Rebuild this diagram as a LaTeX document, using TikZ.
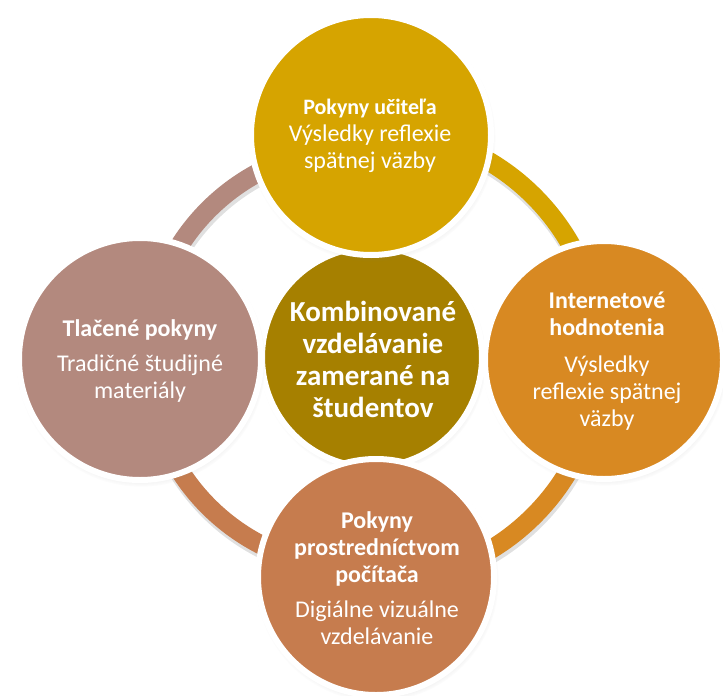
\documentclass[tikz,border=0pt]{standalone}
\usepackage{fontspec}
\setmainfont{Carlito}
\usetikzlibrary{shadows}
\definecolor{cTop}{RGB}{214,164,0}
\definecolor{cRight}{RGB}{216,137,34}
\definecolor{cBottom}{RGB}{198,124,78}
\definecolor{cLeft}{RGB}{179,137,126}
\definecolor{cCenter}{RGB}{166,128,0}
\begin{document}
\begin{tikzpicture}[x=1pt,y=-1pt,
  ring/.style={line width=19pt},
  ringshadow/.style={line width=21pt, draw=black, opacity=0.12},
  bubble/.style={circle, draw=white, line width=6pt, inner sep=0pt,
    circular drop shadow={shadow xshift=1pt, shadow yshift=-3pt, shadow scale=1.03, opacity=0.3}},
  txt/.style={text=white, align=center, font=\fontsize{24}{27}\selectfont},
  ctxt/.style={text=white, align=center, font=\fontsize{29}{32}\selectfont\bfseries}]
\useasboundingbox (0,0) rectangle (723,696);
\fill[white] (0,0) rectangle (723,696);
% ring centres
\coordinate (OL) at (357,358);
\coordinate (OR) at (374,356);
% ring shadows
\draw[ringshadow] ([shift={(1,3)}]OL) ++(180:210) arc[start angle=180, end angle=270, radius=210];
\draw[ringshadow] ([shift={(1,3)}]OL) ++(90:210) arc[start angle=90, end angle=180, radius=210];
\draw[ringshadow] ([shift={(1,3)}]OR) ++(270:226) arc[start angle=270, end angle=360, radius=226];
\draw[ringshadow] ([shift={(1,3)}]OR) ++(0:226) arc[start angle=0, end angle=90, radius=226];
% ring arcs
\draw[ring, cLeft] (OL) ++(180:210) arc[start angle=180, end angle=270, radius=210];
\draw[ring, cBottom] (OL) ++(90:210) arc[start angle=90, end angle=180, radius=210];
\draw[ring, cTop] (OR) ++(270:226) arc[start angle=270, end angle=360, radius=226];
\draw[ring, cRight] (OR) ++(0:226) arc[start angle=0, end angle=90, radius=226];
% centre circle
\node[bubble, fill=cCenter, minimum size=220pt] (C) at (372,357) {};
% outer circles
\node[bubble, fill=cTop, minimum size=240pt] (T) at (371,135) {};
\node[bubble, fill=cRight, minimum size=238pt] (R) at (604,360) {};
\node[bubble, fill=cBottom, minimum size=236pt] (B) at (376,577) {};
\node[bubble, fill=cLeft, minimum size=242pt] (L) at (140,359) {};
% texts
\node[ctxt] (Ct) at (373,359) {Kombinované\\vzdelávanie\\zamerané na\\študentov};
\node[txt] (Tt) at (370,136) {{\fontsize{22}{27}\selectfont\bfseries Pokyny učiteľa}\\Výsledky reflexie\\spätnej väzby};
\node[txt] (Rt) at (607,361) {\textbf{Internetové}\\\textbf{hodnotenia}\\[10pt]Výsledky\\reflexie spätnej\\väzby};
\node[txt] (Lt) at (140,361) {\textbf{Tlačené pokyny}\\[8pt]Tradičné študijné\\materiály};
\node[txt] (Bt) at (377,578) {\textbf{Pokyny}\\\textbf{prostredníctvom}\\\textbf{počítača}\\[8pt]Digiálne vizuálne\\vzdelávanie};
\end{tikzpicture}
\end{document}
